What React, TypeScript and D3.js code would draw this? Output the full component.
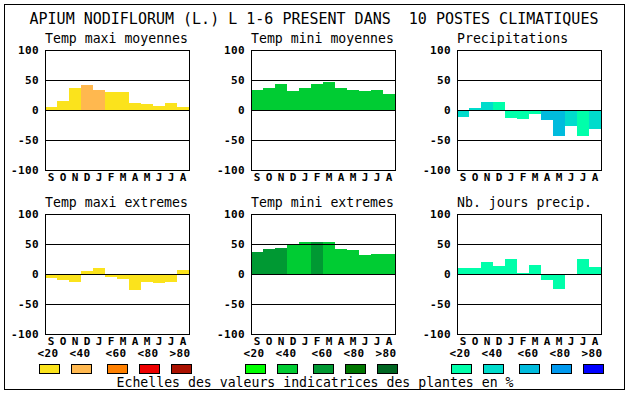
import React from "react";
import * as d3 from "d3";

// values (indicator values, -100..100)
const months = ["S", "O", "N", "D", "J", "F", "M", "A", "M", "J", "J", "A"];
const yTicks = [100, 50, 0, -50, -100];
const legendLabels = ["<20", "<40", "<60", "<80", ">80"];

const tempPalette = ["#fbe31c", "#ffb84f", "#ff8000", "#ee0000", "#aa1100"];
const greenPalette = ["#00ff00", "#00cc33", "#009933", "#007700", "#006622"];
const waterPalette = ["#00ffaa", "#00dccc", "#00bbdd", "#0099ee", "#0000ff"];

const maxiMoy = [5.5, 15.5, 37, 41, 34, 30.5, 30.5, 12, 10.5, 7, 12, 5.5];
const maxiMoyClass = [0, 0, 0, 1, 1, 0, 0, 0, 0, 0, 0, 0];

const miniMoy = [34, 37, 44, 32, 37, 44, 47, 37, 34, 32, 34, 27];
const miniMoyClass = [1, 1, 1, 1, 1, 1, 1, 1, 1, 1, 1, 1];

const precip = [-11, 4, 14, 14, -13, -14.5, -6, -16, -44, -26, -43, -31];
const precipClass = [1, 1, 1, 0, 0, 0, 0, 2, 2, 1, 0, 1];

const maxiExt = [-6, -10.5, -13, 5.5, 10.5, -4.5, -8, -26, -13, -14.5, -13, 7];
const maxiExtClass = [0, 0, 0, 0, 0, 0, 0, 0, 0, 0, 0, 0];

const miniExt = [37, 42, 44, 49, 54, 54, 54, 42, 40.5, 32, 34, 34];
const miniExtClass = [2, 2, 2, 1, 1, 2, 1, 1, 1, 1, 1, 1];

const nbJours = [10, 10, 20.5, 14, 25.5, 2, 15.5, -10.5, -25.5, -2, 25.5, 12];
const nbJoursClass = [0, 0, 0, 0, 0, 0, 0, 0, 0, 0, 0, 0];

const panels = [
  { title: "Temp maxi moyennes", values: maxiMoy, cls: maxiMoyClass, palette: tempPalette, col: 0, row: 0 },
  { title: "Temp mini moyennes", values: miniMoy, cls: miniMoyClass, palette: greenPalette, col: 1, row: 0 },
  { title: "Precipitations", values: precip, cls: precipClass, palette: waterPalette, col: 2, row: 0 },
  { title: "Temp maxi extremes", values: maxiExt, cls: maxiExtClass, palette: tempPalette, col: 0, row: 1 },
  { title: "Temp mini extremes", values: miniExt, cls: miniExtClass, palette: greenPalette, col: 1, row: 1 },
  { title: "Nb. jours precip.", values: nbJours, cls: nbJoursClass, palette: waterPalette, col: 2, row: 1 },
];
const palettes = [tempPalette, greenPalette, waterPalette];

const W = 630;
const H = 394;
const colX = [45, 251, 457];
const rowY = [50, 214];
const pw = 144;
const ph = 120;
const mono = "'DejaVu Sans Mono', 'Liberation Mono', monospace";

const x = d3.scaleBand<number>().domain(d3.range(12)).range([0, pw]).padding(0);
const y = d3.scaleLinear().domain([-100, 100]).range([ph, 0]);

function Panel({ p }: { p: (typeof panels)[number] }) {
  const left = colX[p.col];
  const top = rowY[p.row];
  return (
    <g transform={`translate(${left},${top})`}>
      <text x={0} y={-7.5} fontFamily={mono} fontSize={13.2} fill="#000">
        {p.title}
      </text>
      {p.values.map((v, i) => (
        <rect
          key={i}
          x={x(i)}
          width={x.bandwidth()}
          y={y(Math.max(0, v))}
          height={Math.abs(y(v) - y(0))}
          fill={p.palette[p.cls[i]]}
          shapeRendering="crispEdges"
        />
      ))}
      {yTicks.map((t) => (
        <g key={t}>
          {t !== 100 && t !== -100 && (
            <line x1={0} x2={pw} y1={y(t) + 0.5} y2={y(t) + 0.5} stroke="#000" strokeWidth={1} shapeRendering="crispEdges" />
          )}
          <text
            x={-6}
            y={y(t)}
            dy="0.36em"
            textAnchor="end"
            fontFamily={mono}
            fontWeight="bold"
            fontSize={11}
            letterSpacing={0.4}
            fill="#000"
          >
            {t}
          </text>
        </g>
      ))}
      <rect x={0.5} y={0.5} width={pw} height={ph} fill="none" stroke="#000" strokeWidth={1} shapeRendering="crispEdges" />
      {months.map((m, i) => (
        <text
          key={i}
          x={(x(i) ?? 0) + x.bandwidth() / 2}
          y={ph + 10.5}
          textAnchor="middle"
          fontFamily={mono}
          fontWeight="bold"
          fontSize={11}
          fill="#000"
        >
          {m}
        </text>
      ))}
    </g>
  );
}

const swatchOffsets = [0, 32, 68, 100, 132];

export default function App() {
  return (
    <svg width={W} height={H} style={{ position: "absolute", left: 0, top: 0, display: "block" }}>
      <rect x={0} y={0} width={W} height={H} fill="#fff" />
      <rect x={4.5} y={4.5} width={620} height={385} fill="none" stroke="#000" strokeWidth={1} shapeRendering="crispEdges" />
      <text
        x={314}
        y={24}
        textAnchor="middle"
        fontFamily={mono}
        fontSize={15}
        fill="#000"
        style={{ whiteSpace: "pre" }}
      >
        {"APIUM NODIFLORUM (L.) L 1-6 PRESENT DANS  10 POSTES CLIMATIQUES"}
      </text>
      {panels.map((p) => (
        <Panel key={p.title} p={p} />
      ))}
      {palettes.map((pal, gi) => (
        <g key={gi} transform={`translate(${colX[gi] - 6},0)`}>
          {pal.map((c, k) => (
            <g key={k}>
              <text
                x={swatchOffsets[k] + 9}
                y={357}
                textAnchor="middle"
                fontFamily={mono}
                fontWeight="bold"
                fontSize={11}
                letterSpacing={0.4}
                fill="#000"
              >
                {legendLabels[k]}
              </text>
              <rect
                x={swatchOffsets[k] + 0.5}
                y={364.5}
                width={20}
                height={9}
                fill={c}
                stroke="#000"
                strokeWidth={1}
                shapeRendering="crispEdges"
              />
            </g>
          ))}
        </g>
      ))}
      <text x={315} y={387} textAnchor="middle" fontFamily={mono} fontSize={13.2} fill="#000">
        Echelles des valeurs indicatrices des plantes en %
      </text>
    </svg>
  );
}
